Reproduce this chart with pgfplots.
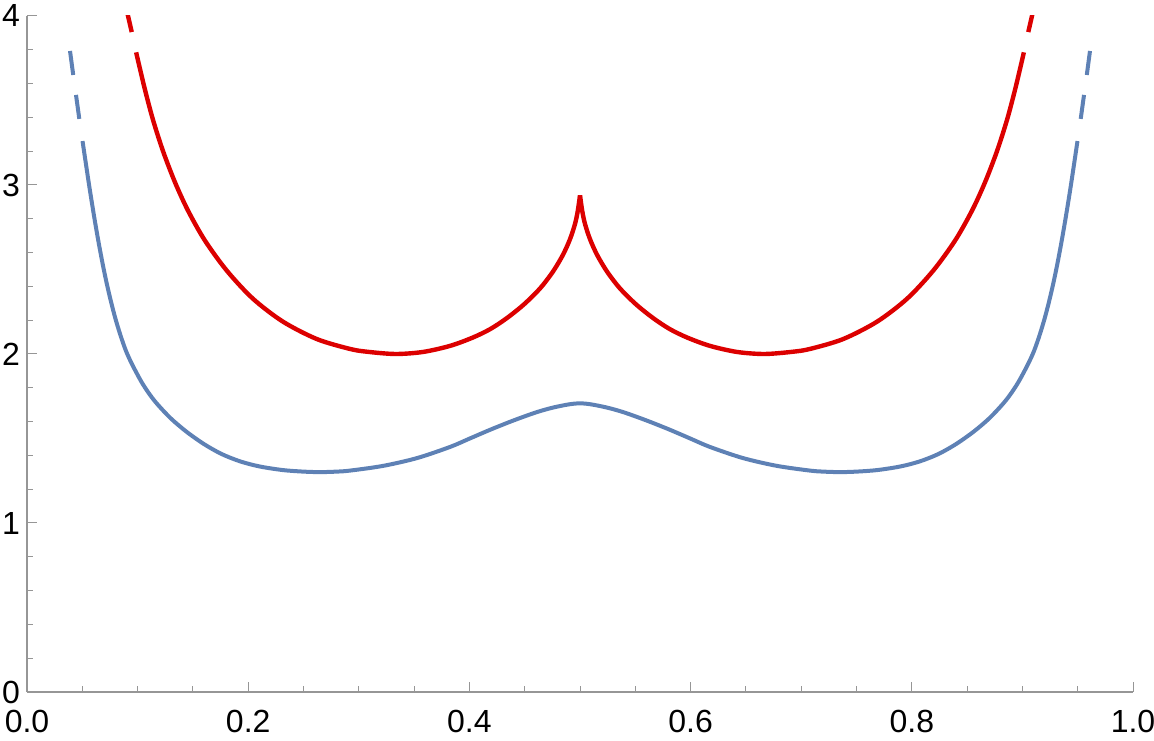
\documentclass[border=0pt]{standalone}
\usepackage{fontspec}
\setmainfont{Liberation Sans}
\usepackage{pgfplots}
\pgfplotsset{compat=1.18}
\definecolor{mblue}{rgb}{0.368417,0.506779,0.709798}
\definecolor{mred}{RGB}{220,0,0}
\definecolor{axgray}{RGB}{150,150,150}
\begin{document}
\begin{tikzpicture}
\begin{axis}[
  scale only axis, width=553pt, height=338pt,
  xmin=0, xmax=1, ymin=0, ymax=4,
  axis x line=bottom, axis y line=left,
  axis line style={-, draw=axgray, line width=0.6pt},
  xtick={0,0.2,0.4,0.6,0.8,1}, ytick={0,1,2,3,4},
  minor x tick num=3, minor y tick num=4,
  tick align=inside,
  major tick length=5pt, minor tick length=3pt,
  tick style={draw=axgray, line width=0.5pt},
  tick label style={font=\fontsize{16}{19}\selectfont, text=black},
  xticklabel style={yshift=-5.5pt},
  xticklabel={\pgfmathprintnumber[fixed,fixed zerofill,precision=1,assume math mode=true]{\tick}},
  yticklabel={\pgfmathprintnumber[assume math mode=true]{\tick}},
  line join=round,
]
\coordinate (bl) at (rel axis cs:0,0);
\coordinate (tr) at (rel axis cs:1,1);
% blue curve: short dashes at the top ends, main body smooth
\addplot[mblue, line width=2pt] coordinates {(0.0389,3.793) (0.0418,3.651)};
\addplot[mblue, line width=2pt] coordinates {(0.0443,3.533) (0.0473,3.391)};
\addplot[mblue, line width=2pt, smooth] coordinates {
(0.0502,3.260) (0.0553,3.036) (0.0581,2.918) (0.0615,2.782) (0.0650,2.651) (0.0685,2.530)
(0.0720,2.420) (0.0760,2.308) (0.0800,2.208) (0.0845,2.111) (0.0895,2.018) (0.0950,1.939)
(0.1035,1.835) (0.1110,1.760) (0.1180,1.702) (0.1300,1.619) (0.1440,1.541) (0.1600,1.467)
(0.1760,1.408) (0.1930,1.364) (0.2107,1.334) (0.2315,1.313) (0.2500,1.304) (0.2650,1.301)
(0.2800,1.304) (0.2920,1.310) (0.3220,1.338) (0.3526,1.384) (0.3825,1.450) (0.4000,1.499)
(0.4200,1.555) (0.4400,1.607) (0.4600,1.654) (0.4750,1.682) (0.4900,1.702) (0.5000,1.708)
(0.5100,1.702) (0.5250,1.682) (0.5400,1.654) (0.5600,1.607) (0.5800,1.555) (0.6000,1.499)
(0.6175,1.450) (0.6474,1.384) (0.6780,1.338) (0.7080,1.310) (0.7200,1.304) (0.7350,1.301)
(0.7500,1.304) (0.7685,1.313) (0.7893,1.334) (0.8070,1.364) (0.8240,1.408) (0.8400,1.467)
(0.8560,1.541) (0.8700,1.619) (0.8820,1.702) (0.8890,1.760) (0.8965,1.835) (0.9050,1.939)
(0.9105,2.018) (0.9155,2.111) (0.9200,2.208) (0.9240,2.308) (0.9280,2.420) (0.9315,2.530)
(0.9350,2.651) (0.9385,2.782) (0.9419,2.918) (0.9447,3.036) (0.9498,3.260)
};
\addplot[mblue, line width=2pt] coordinates {(0.9527,3.391) (0.9557,3.533)};
\addplot[mblue, line width=2pt] coordinates {(0.9582,3.651) (0.9611,3.793)};
% red curve: left and right branches meet at the cusp
\addplot[mred, line width=2.2pt] coordinates {(0.0896,4.05) (0.0947,3.905)};
\addplot[mred, line width=2.2pt, smooth] coordinates {
(0.0987,3.785) (0.1004,3.736) (0.1067,3.563) (0.1139,3.386) (0.1230,3.200) (0.1338,3.016)
(0.1456,2.848) (0.1609,2.671) (0.1808,2.492) (0.2043,2.327) (0.2315,2.191) (0.2622,2.088)
(0.2920,2.030) (0.3080,2.013) (0.3333,2.000) (0.3580,2.012) (0.3825,2.048) (0.4030,2.097)
(0.4190,2.148) (0.4340,2.213) (0.4494,2.294) (0.4640,2.389) (0.4756,2.488) (0.4846,2.587)
(0.4910,2.680) (0.4955,2.770) (0.4980,2.847) (0.5000,2.939)
};
\addplot[mred, line width=2.2pt, smooth] coordinates {
(0.5000,2.939) (0.5020,2.847) (0.5045,2.770) (0.5090,2.680) (0.5154,2.587) (0.5244,2.488)
(0.5360,2.389) (0.5506,2.294) (0.5660,2.213) (0.5810,2.148) (0.5970,2.097) (0.6175,2.048)
(0.6420,2.012) (0.6667,2.000) (0.6920,2.013) (0.7080,2.030) (0.7378,2.088) (0.7685,2.191)
(0.7957,2.327) (0.8192,2.492) (0.8391,2.671) (0.8544,2.848) (0.8662,3.016) (0.8770,3.200)
(0.8861,3.386) (0.8933,3.563) (0.8996,3.736) (0.9013,3.785)
};
\addplot[mred, line width=2.2pt] coordinates {(0.9053,3.905) (0.9104,4.05)};
\end{axis}
\pgfresetboundingbox
\path ([shift={(-13.5pt,-24.5pt)}]bl) rectangle ([shift={(10.5pt,8pt)}]tr);
\end{tikzpicture}
\end{document}
